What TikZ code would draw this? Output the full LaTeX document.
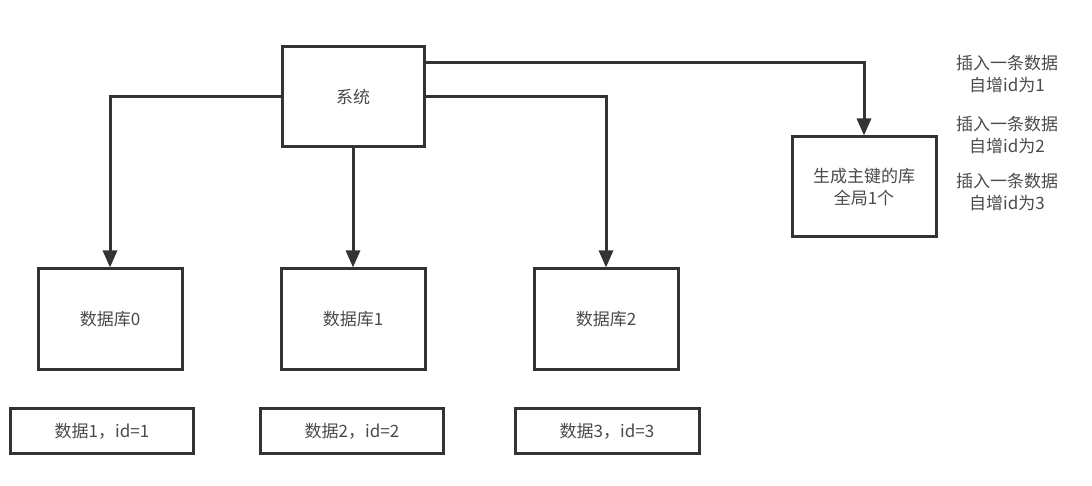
\documentclass[tikz,border=0pt]{standalone}
\usepackage{fontspec}
\setmainfont{Noto Sans CJK SC}
\usetikzlibrary{arrows.meta}
\definecolor{linec}{HTML}{333333}
\definecolor{textc}{HTML}{4a4a4a}
\begin{document}
\begin{tikzpicture}[x=1pt,y=-1pt,
  box/.style={draw=linec,line width=3pt,fill=white,inner sep=0pt,text=textc,font=\fontsize{17}{22}\selectfont,align=center},
  conn/.style={draw=linec,line width=3pt,-{Triangle[length=17pt,width=14pt]}},
  note/.style={text=textc,font=\fontsize{17}{22}\selectfont,align=center,inner sep=0pt}]
\useasboundingbox (0,0) rectangle (1092,486);
\node[box,minimum width=142pt,minimum height=100pt] (sys) at (353,97) {系统};
\node[box,minimum width=144pt,minimum height=100pt] (key) at (864,187) {生成主键的库\\全局1个};
\node[box,minimum width=144pt,minimum height=100pt] (db0) at (110,319) {数据库0};
\node[box,minimum width=144pt,minimum height=100pt] (db1) at (353,319) {数据库1};
\node[box,minimum width=144pt,minimum height=100pt] (db2) at (606,319) {数据库2};
\node[box,minimum width=183pt,minimum height=45pt] (d1) at (102,431) {数据1，id=1};
\node[box,minimum width=183pt,minimum height=45pt] (d2) at (352,431) {数据2，id=2};
\node[box,minimum width=184pt,minimum height=45pt] (d3) at (607,431) {数据3，id=3};
\node[note] (n1) at (1007,74) {插入一条数据\\自增id为1};
\node[note] (n2) at (1007,135) {插入一条数据\\自增id为2};
\node[note] (n3) at (1007,192) {插入一条数据\\自增id为3};
\coordinate (s0) at (sys.west);
\coordinate (s2) at (sys.east);
\coordinate (sk) at ([yshift=34pt]sys.east);
\draw[conn] (s0) -| (db0.north);
\draw[conn] (sys.south) -- (db1.north);
\draw[conn] (s2) -| (db2.north);
\draw[conn] (sk) -| (key.north);
\end{tikzpicture}
\end{document}
